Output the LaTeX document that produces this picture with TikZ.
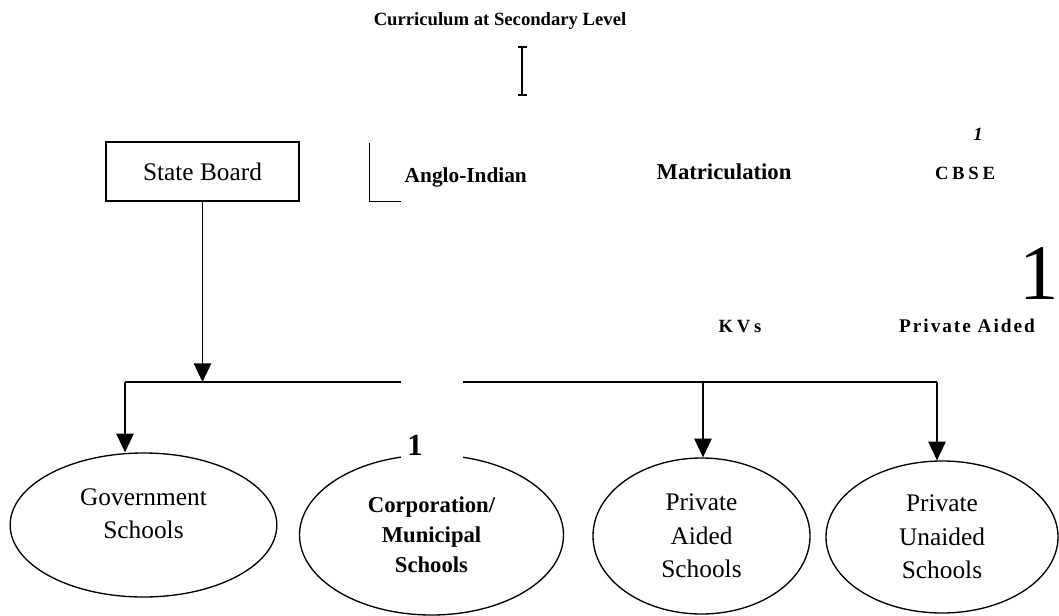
\documentclass[tikz,border=0pt]{standalone}
\usepackage{fontspec}
\setmainfont{Liberation Serif}
\usetikzlibrary{arrows.meta, shapes.geometric}
\def\levely{382}

\begin{document}
\begin{tikzpicture}[x=0.75pt, y=-0.75pt, line width=1.1pt, >={Triangle[width=13pt,length=14pt]}]
    \tikzstyle{board}=[draw, rectangle, minimum width=145pt, minimum height=44pt, inner sep=0pt, font=\fontsize{19}{23}\selectfont]
    \tikzstyle{school text}=[align=center, inner sep=0pt, font=\fontsize{19}{25}\selectfont]
    \tikzstyle{school}=[draw, ellipse, line width=1pt, school text]
    \tikzstyle{bold school}=[school, font=\fontsize{17}{22.5}\selectfont\bfseries]
    \tikzstyle{stream}=[anchor=base, inner sep=0pt, font=\fontsize{17}{20}\selectfont\bfseries]
    \tikzstyle{spaced}=[stream, font=\fontsize{14}{17}\selectfont\bfseries\addfontfeatures{LetterSpace=20}]

    \useasboundingbox (0,0) rectangle (1059,616);

    % Title and the boards
    \node[stream, font=\fontsize{14}{17}\selectfont\bfseries] (title) at (500,26) {Curriculum at Secondary Level};
    \draw (522,47) -- (522,95);
    \draw (518,47) -- (527,47);
    \draw (518,95) -- (527,95);

    \node[board] (state) at (202.5,171.5) {State Board};
    \draw[line width=0.7pt] (369,143) -- (369,201) -- (401,201);
    \node[stream, anchor=base west, font=\fontsize{16}{19}\selectfont\bfseries] (anglo) at (404,183) {Anglo-Indian};
    \node[stream] (matric) at (724,180) {Matriculation};
    \node[spaced] (cbse) at (965,180) {CBSE};
    \node[stream, font=\fontsize{14}{17}\selectfont\bfseries\itshape] (cbse mark) at (978,141) {1};
    \node[anchor=base, inner sep=0pt, font=\fontsize{59}{59}\selectfont] (big mark) at (1039,300) {1};
    \node[spaced] (kvs) at (740,333) {KVs};
    \node[spaced, font=\fontsize{14.5}{17}\selectfont\bfseries\addfontfeatures{LetterSpace=10}] (aided) at (967,333) {Private Aided};

    % Draw the schools
    \node[school, minimum width=200pt, minimum height=108pt,
          label={[school text, yshift=8.5pt]center:Government\\Schools}] (gov) at (143.5,525) {};
    \node[bold school, minimum width=198pt, minimum height=120pt] (corp) at (431.5,535) {Corporation/\\Municipal\\Schools};
    \node[school, minimum width=162.75pt, minimum height=117pt] (pa) at (701.5,536) {Private\\Aided\\Schools};
    \node[school, minimum width=174pt, minimum height=114pt] (pu) at (942,537) {Private\\Unaided\\Schools};

    % Draw the connectors
    \coordinate (split) at (202.5,\levely);
    \coordinate (left end) at (125,\levely);
    \coordinate (right end) at (937,\levely);
    \draw (left end) -- (right end);
    \draw[->] (state) -- (split);
    \foreach \dest/\x in {gov/125, pa/703, pu/937}
    {
        \coordinate (in-\dest) at (\x,\levely);
        \draw[->] (in-\dest) -- (in-\dest |- \dest.north);
    }

    % Gap over the corporation schools
    \fill[white] (401,370) rectangle (463,459);
    \node[anchor=base, inner sep=0pt, font=\fontsize{23}{23}\selectfont\bfseries] (corp mark) at (415,455) {1};
\end{tikzpicture}
\end{document}
